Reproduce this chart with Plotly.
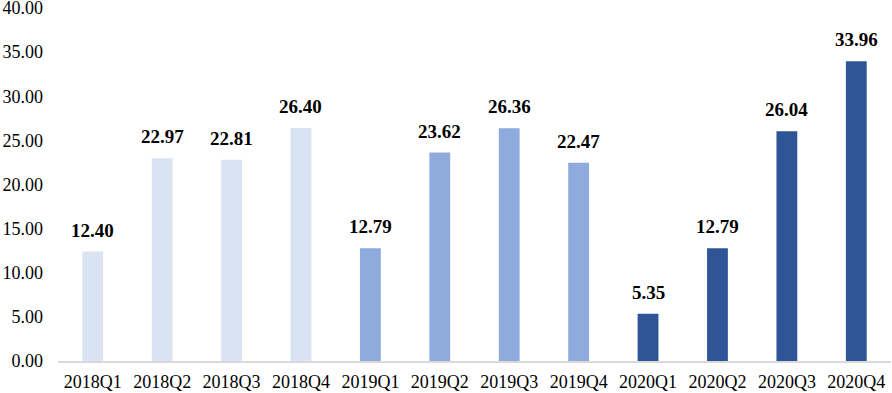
import plotly.graph_objects as go

categories = ["2018Q1", "2018Q2", "2018Q3", "2018Q4",
              "2019Q1", "2019Q2", "2019Q3", "2019Q4",
              "2020Q1", "2020Q2", "2020Q3", "2020Q4"]
values = [12.40, 22.97, 22.81, 26.40,
          12.79, 23.62, 26.36, 22.47,
          5.35, 12.79, 26.04, 33.96]
years = ["2018"] * 4 + ["2019"] * 4 + ["2020"] * 4
year_colors = {"2018": "#DAE3F3", "2019": "#8FAADC", "2020": "#2F5597"}
y_ticks = [0, 5, 10, 15, 20, 25, 30, 35, 40]

fig = go.Figure(go.Bar(
    x=categories,
    y=values,
    marker=dict(color=[year_colors[y] for y in years], line=dict(width=0)),
    width=0.3,
    hoverinfo="x+y",
))

for c, v in zip(categories, values):
    fig.add_annotation(
        x=c, y=v, text=f"{v:.2f}", showarrow=False,
        xanchor="center", yanchor="bottom", yshift=9,
        font=dict(family="Liberation Serif", size=19, color="#000000", weight="bold"),
    )

fig.update_layout(
    width=892, height=393,
    margin=dict(l=58, r=1, t=8, b=32, autoexpand=False),
    plot_bgcolor="white", paper_bgcolor="white",
    font=dict(family="Liberation Serif", size=18, color="#000000"),
    showlegend=False,
    xaxis=dict(showline=True, linecolor="#D9D9D9", linewidth=2, ticks="",
               showgrid=False, automargin=False, tickfont=dict(size=18),
               ticklabelstandoff=3, ticklabeloverflow="allow"),
    yaxis=dict(range=[0, 40], tickvals=y_ticks,
               ticktext=[f"{t:.2f}" for t in y_ticks],
               showgrid=False, zeroline=False, showline=False, automargin=False,
               ticks="", ticklabelstandoff=14, tickfont=dict(size=18),
               ticklabeloverflow="allow"),
)

fig.write_html("out.html", config={"displayModeBar": False},
               post_script="document.body.style.margin='0';document.body.style.padding='0';")
